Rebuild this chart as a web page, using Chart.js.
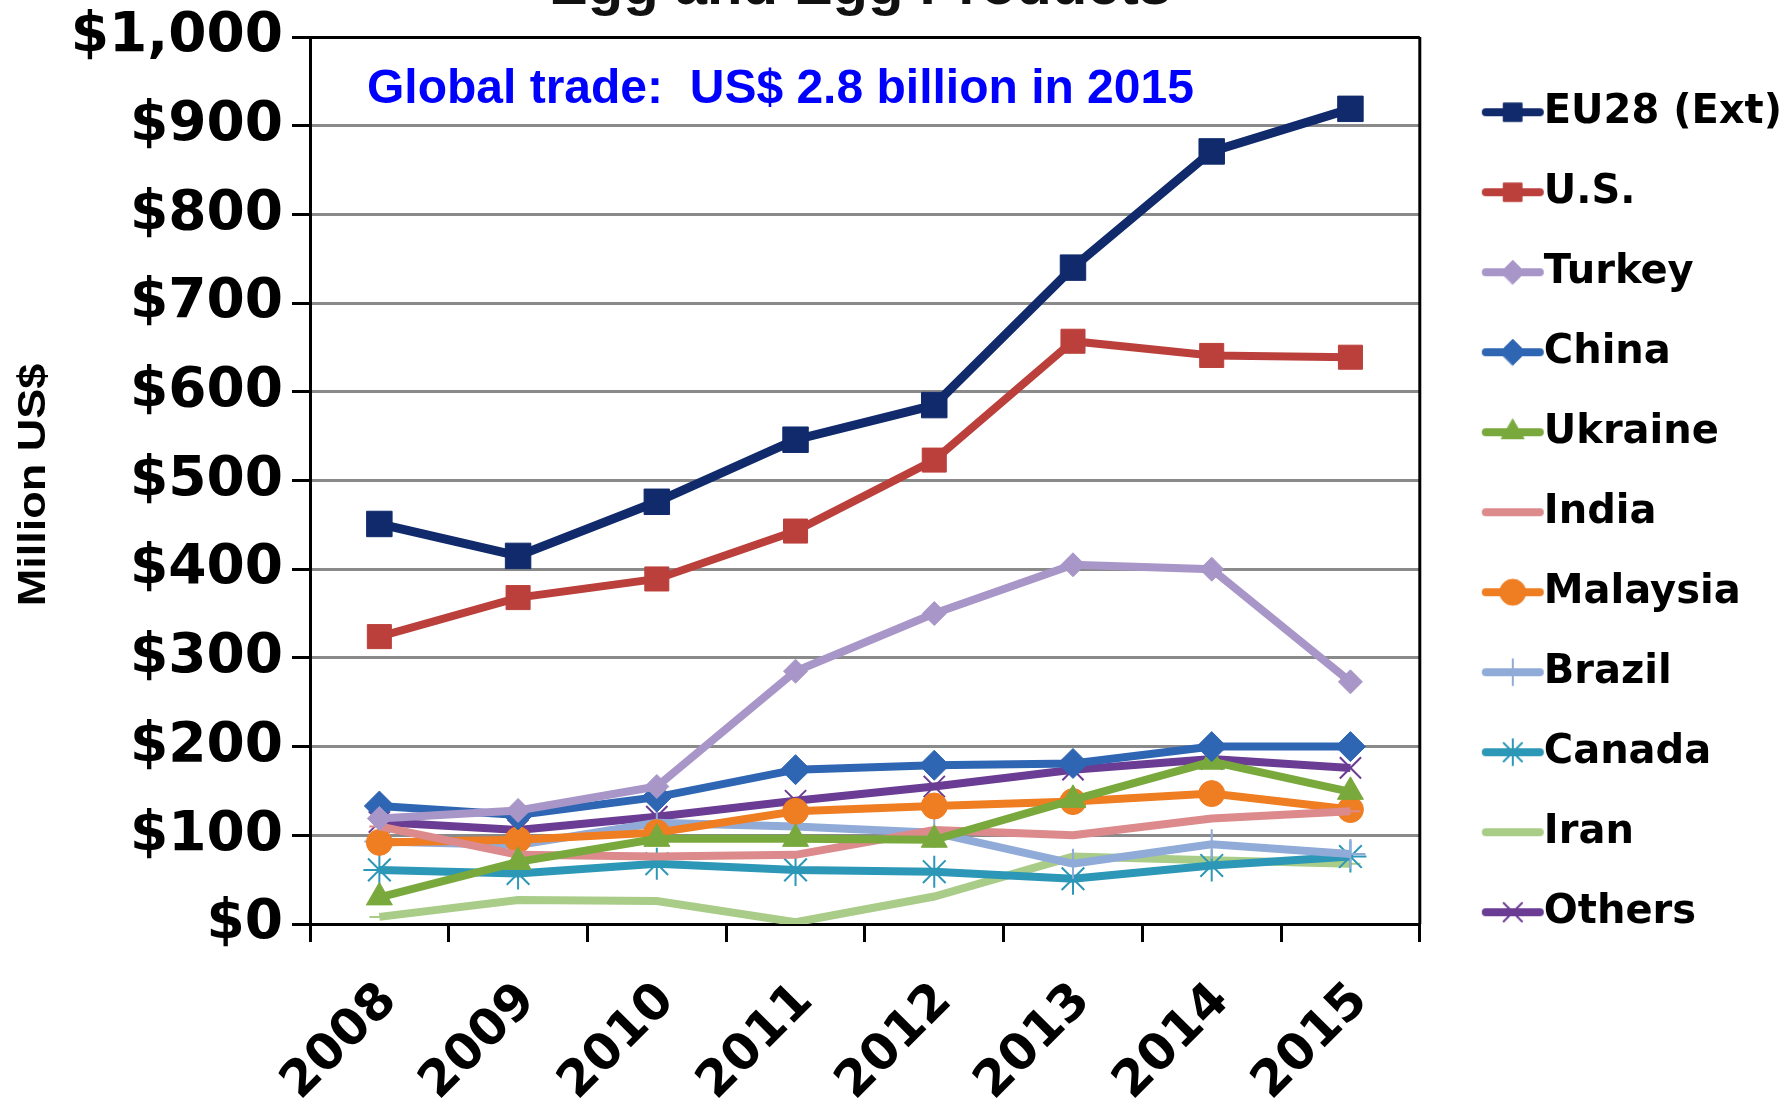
<!DOCTYPE html>
<html>
<head>
<meta charset="utf-8">
<script src="https://cdn.jsdelivr.net/npm/chart.js@4.4.1/dist/chart.umd.min.js"></script>
<style>
  body { margin: 0; background: #fff; }
  canvas { display: block; }
</style>
</head>
<body>
<canvas id="myChart" width="1789" height="1101"></canvas>
<script>
// data (million US$)
const years = ['2008', '2009', '2010', '2011', '2012', '2013', '2014', '2015'];
const eu28 = [451, 415, 476, 546, 585, 740, 871, 919];
const us = [324, 368, 389, 443, 523, 657, 641, 639];
const turkey = [119, 128, 155, 285, 350, 405, 400, 273];
const china = [133, 123, 143, 174, 179, 181, 200, 200];
const ukraine = [30, 70, 96, 96, 95, 140, 183, 149];
const india = [110, 78, 76, 78, 106, 100, 119, 127];
const malaysia = [92, 95, 103, 127, 133, 138, 147, 129];
const brazil = [93, 89, 114, 110, 103, 68, 90, 79];
const canada = [61, 57, 68, 61, 59, 51, 66, 76];
const iran = [8, 27, 26, 2, 31, 76, 72, 68];
const others = [115, 106, 121, 139, 155, 174, 186, 176];

const yTicks = [0, 100, 200, 300, 400, 500, 600, 700, 800, 900, 1000];

// line + marker icon for the legend
function legendIcon(color, style, radius, bw) {
  const c = document.createElement('canvas');
  c.width = 112; c.height = 40;
  const g = c.getContext('2d');
  g.strokeStyle = color;
  g.lineWidth = 8;
  g.lineCap = 'round';
  g.beginPath(); g.moveTo(50, 20); g.lineTo(104, 20); g.stroke();
  if (style) {
    g.fillStyle = color;
    g.lineWidth = bw;
    Chart.helpers.drawPoint(g, {pointStyle: style, radius: radius, rotation: 0, borderWidth: bw}, 77, 20);
  }
  return c;
}

function series(label, data, color, style, radius, bw, lw) {
  return {
    label: label,
    data: data,
    borderColor: color,
    backgroundColor: color,
    pointBackgroundColor: color,
    pointBorderColor: color,
    pointStyle: style,
    pointRadius: radius,
    pointBorderWidth: bw,
    borderWidth: lw,
    tension: 0,
    icon: legendIcon(color, style, Math.min(radius, 13), bw)
  };
}

const datasets = [
  series('EU28 (Ext)', eu28, '#102a6c', 'rect', 18, 1, 9),
  series('U.S.', us, '#bb403c', 'rect', 17, 1, 8),
  series('Turkey', turkey, '#a896c8', 'rectRot', 12, 1, 8),
  series('China', china, '#2f66b3', 'rectRot', 15, 1, 8),
  series('Ukraine', ukraine, '#79a93c', 'triangle', 15, 1, 8),
  series('India', india, '#dc8a8c', 'line', 10, 2, 8),
  series('Malaysia', malaysia, '#ef7d22', 'circle', 13, 1, 8),
  series('Brazil', brazil, '#91abd8', 'cross', 15, 2, 8),
  series('Canada', canada, '#2c97b6', 'star', 16, 2, 8),
  series('Iran', iran, '#a9cd88', 'line', 10, 2, 8),
  series('Others', others, '#6a3c93', 'crossRot', 15, 2, 8)
];

const extras = {
  id: 'extras',
  afterDraw(chart) {
    const ctx = chart.ctx;
    const a = chart.chartArea;
    ctx.save();
    ctx.strokeStyle = '#000';
    ctx.lineWidth = 3;
    ctx.beginPath();
    ctx.moveTo(a.right, a.top);
    ctx.lineTo(a.right, a.bottom);
    ctx.stroke();
    // title, cut off at the top edge like the source
    ctx.fillStyle = '#111';
    ctx.font = 'bold 58px "Liberation Sans"';
    ctx.textAlign = 'center';
    ctx.textBaseline = 'alphabetic';
    ctx.fillText('Egg and Egg Products', 860, 4, 651);
    // note inside the plot
    ctx.fillStyle = '#0000ff';
    ctx.font = 'bold 48px "Liberation Sans"';
    ctx.textAlign = 'left';
    ctx.textBaseline = 'middle';
    ctx.fillText('Global trade:  US$ 2.8 billion in 2015', 367, 90, 827);
    // y axis title, narrow bold
    ctx.save();
    ctx.translate(34, 485);
    ctx.rotate(-Math.PI / 2);
    ctx.scale(1, 0.85);
    ctx.fillStyle = '#000';
    ctx.font = 'bold 45px "Liberation Sans"';
    ctx.textAlign = 'center';
    ctx.textBaseline = 'middle';
    ctx.fillText('Million US$', 0, 0);
    ctx.restore();
    ctx.restore();
  }
};

const ctx = document.getElementById('myChart').getContext('2d');
const myChart = new Chart(ctx, {
  type: 'line',
  data: { labels: years, datasets: datasets },
  plugins: [extras],
  options: {
    responsive: false,
    animation: false,
    layout: { padding: { top: 37, right: -3, left: 0, bottom: 0 } },
    plugins: {
      tooltip: { enabled: false },
      legend: {
        position: 'right',
        align: 'start',
        title: { display: true, text: ' ', font: { size: 1 }, padding: { top: 7, bottom: 7 } },
        labels: {
          usePointStyle: true,
          pointStyleWidth: 64,
          padding: 40,
          color: '#000',
          font: { family: 'DejaVu Sans', weight: 'bold', size: 40 },
          generateLabels(chart) {
            return chart.data.datasets.map((d, i) => ({
              text: d.label,
              pointStyle: d.icon,
              fillStyle: d.borderColor,
              strokeStyle: d.borderColor,
              fontColor: '#000',
              lineWidth: 0,
              hidden: false,
              datasetIndex: i
            }));
          }
        }
      }
    },
    scales: {
      x: {
        offset: true,
        afterFit(scale) { scale.height = 177; },
        grid: {
          display: true,
          offset: true,
          drawOnChartArea: false,
          drawTicks: true,
          tickLength: 18,
          color: '#000',
          lineWidth: 3
        },
        border: { display: true, color: '#000', width: 3 },
        ticks: {
          autoSkip: false,
          minRotation: 45,
          maxRotation: 45,
          padding: 30,
          labelOffset: 10,
          color: '#000',
          font: { family: 'DejaVu Sans', weight: 'bold', size: 50 }
        }
      },
      y: {
        min: 0,
        max: 1000,
        afterFit(scale) { scale.width = 310; },
        afterBuildTicks(scale) { scale.ticks = yTicks.map(v => ({ value: v })); },
        grid: {
          color: (c) => (c.tick && (c.tick.value === 1000 || c.tick.value === 0)) ? '#000' : '#8a8a8a',
          lineWidth: 3,
          tickLength: 18,
          tickColor: '#000'
        },
        border: { display: true, color: '#000', width: 3 },
        ticks: {
          padding: 9,
          color: '#000',
          font: { family: 'DejaVu Sans', weight: 'bold', size: 55, lineHeight: 1 },
          callback: (v) => '$' + Number(v).toLocaleString('en-US')
        }
      }
    }
  }
});
</script>
</body>
</html>
